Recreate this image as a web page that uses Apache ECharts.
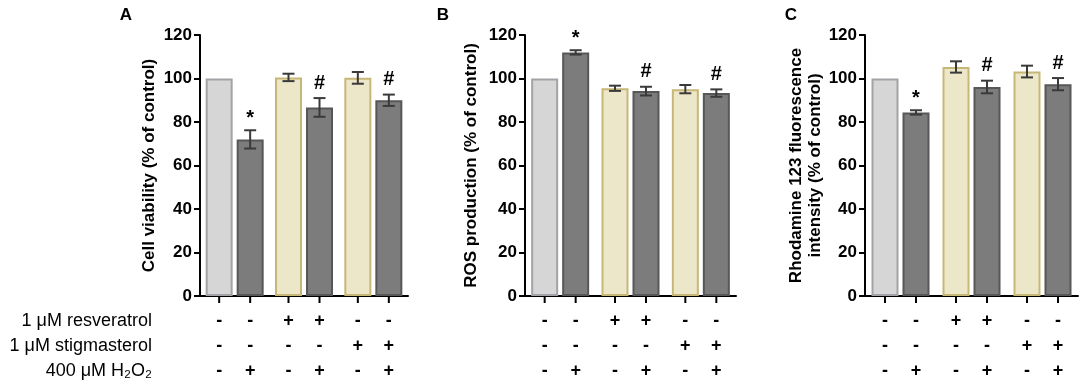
<!DOCTYPE html>
<html>
<head>
<meta charset="utf-8">
<script src="https://cdn.jsdelivr.net/npm/echarts@6/dist/echarts.min.js"></script>
<style>
html,body{margin:0;padding:0;background:#fff;}
#chart{width:1084px;height:390px;}
</style>
</head>
<body>
<div id="chart"></div>
<script>
// ---------------- data ----------------
const groups = ['Control', 'H2O2', 'Resveratrol', 'Resveratrol + H2O2', 'Stigmasterol', 'Stigmasterol + H2O2'];
const pairLabels = ['Control', 'Resveratrol', 'Stigmasterol'];

const viabilityMean = [100, 72, 100.5, 86.7, 100.3, 90];
const viabilityErr  = [0, 4.2, 1.7, 4.3, 2.7, 2.6];
const viabilityNote = ['', '*', '', '#', '', '#'];

const rosMean = [100, 112, 95.5, 94.2, 95.1, 93.3];
const rosErr  = [0, 1.0, 1.2, 2.0, 1.9, 1.7];
const rosNote = ['', '*', '', '#', '', '#'];

const rhoMean = [100, 84.4, 105.3, 96.1, 103.2, 97.4];
const rhoErr  = [0, 1.0, 2.6, 2.9, 2.7, 2.8];
const rhoNote = ['', '*', '', '#', '', '#'];

const rowLabels = ['1 \u03bcM resveratrol', '1 \u03bcM stigmasterol', '400 \u03bcM H\u2082O\u2082'];
const resveratrolRow  = ['-', '-', '+', '+', '-', '-'];
const stigmasterolRow = ['-', '-', '-', '-', '+', '+'];
const h2o2Row         = ['-', '+', '-', '+', '-', '+'];

const yTicks = [0, 20, 40, 60, 80, 100, 120];
const panelLetters = ['A', 'B', 'C'];
const yNames = ['Cell viability (% of control)', 'ROS production (% of control)', 'Rhodamine 123 fluorescence\nintensity (% of control)'];

// ---------------- style ----------------
const FONT = 'Liberation Sans, Arial, Helvetica, sans-serif';
const BAR_W = 27;
const BAR_GAP_PX = 4;
const HALF = (BAR_W + BAR_GAP_PX) / 2;
const fills = ['#d6d6d6', '#7c7c7c', '#ede7ca', '#7c7c7c', '#ede7ca', '#7c7c7c'];
const borders = ['#a3a3a7', '#575757', '#c7b777', '#575757', '#c7b777', '#575757'];
const rows = [resveratrolRow, stigmasterolRow, h2o2Row];

const grids = [
  {left: 200, top: 35, width: 208, height: 261},
  {left: 525, top: 35, width: 211, height: 261},
  {left: 865, top: 35, width: 213, height: 261}
];
const nameGaps = [41, 44, 40];
const panels = [
  {mean: viabilityMean, err: viabilityErr, note: viabilityNote},
  {mean: rosMean, err: rosErr, note: rosNote},
  {mean: rhoMean, err: rhoErr, note: rhoNote}
];

const xAxes = [], yAxes = [], series = [];
panels.forEach((p, g) => {
  xAxes.push({
    type: 'category', gridIndex: g, data: pairLabels,
    axisLine: {lineStyle: {color: '#000', width: 2}},
    axisTick: {show: false}, axisLabel: {show: false}
  });
  yAxes.push({
    type: 'value', gridIndex: g, min: yTicks[0], max: yTicks[yTicks.length - 1], interval: yTicks[1] - yTicks[0],
    name: yNames[g], nameLocation: 'middle', nameRotate: 90, nameGap: nameGaps[g],
    nameTextStyle: {fontFamily: FONT, fontWeight: 'bold', fontSize: 17, color: '#000', lineHeight: 19},
    axisLine: {show: true, lineStyle: {color: '#000', width: 2}},
    axisTick: {show: true, length: 6, lineStyle: {color: '#000', width: 2}},
    axisLabel: {fontFamily: FONT, fontWeight: 'bold', fontSize: 17, color: '#000', margin: 8},
    splitLine: {show: false}
  });
  [0, 1].forEach(side => {
    const data = [];
    for (let i = side; i < p.mean.length; i += 2) {
      data.push({value: p.mean[i], itemStyle: {color: fills[i], borderColor: borders[i], borderWidth: 2}});
    }
    series.push({
      type: 'bar', xAxisIndex: g, yAxisIndex: g, data: data,
      barWidth: BAR_W, barGap: (BAR_GAP_PX / BAR_W * 100) + '%',
      silent: true, z: 2
    });
  });
  series.push({
    type: 'custom', xAxisIndex: g, yAxisIndex: g, clip: false, z: 5, silent: true,
    data: p.mean.map((m, i) => [Math.floor(i / 2), m, p.err[i], i]),
    encode: {x: 0, y: 1},
    renderItem: function (params, api) {
      const cat = api.value(0), m = api.value(1), e = api.value(2), i = api.value(3);
      const base = api.coord([cat, 0]);
      const x = base[0] + (i % 2 ? HALF : -HALF);
      const y0 = base[1];
      const ch = [];
      let topY = api.coord([cat, m])[1];
      if (e > 0) {
        const yt = api.coord([cat, m + e])[1];
        const yb = api.coord([cat, m - e])[1];
        const st = {stroke: '#3a3a3a', lineWidth: 2};
        ch.push({type: 'line', shape: {x1: x, y1: yt, x2: x, y2: yb}, style: st});
        ch.push({type: 'line', shape: {x1: x - 6, y1: yt, x2: x + 6, y2: yt}, style: st});
        ch.push({type: 'line', shape: {x1: x - 6, y1: yb, x2: x + 6, y2: yb}, style: st});
        topY = yt;
      }
      ch.push({type: 'line', shape: {x1: x, y1: y0 + 1, x2: x, y2: y0 + 7}, style: {stroke: '#000', lineWidth: 2}});
      const note = p.note[i];
      if (note) {
        ch.push({type: 'text', x: x, y: topY - (note === '*' ? 2 : 5),
          style: {text: note, align: 'center', verticalAlign: 'bottom', fontFamily: FONT, fontWeight: 'bold', fontSize: 20, fill: '#000'}});
      }
      rows.forEach((row, r) => {
        ch.push({type: 'text', x: x, y: y0 + 25 + r * 25,
          style: {text: row[i], align: 'center', verticalAlign: 'middle', fontFamily: FONT, fontWeight: 'bold', fontSize: 18, fill: '#000'}});
      });
      return {type: 'group', children: ch};
    }
  });
});

const graphic = [];
const letterX = [126, 443, 791];
panelLetters.forEach((L, k) => {
  graphic.push({type: 'text', x: letterX[k], y: 15,
    style: {text: L, align: 'center', verticalAlign: 'middle', fontFamily: FONT, fontWeight: 'bold', fontSize: 17, fill: '#000'}});
});
rowLabels.forEach((t, r) => {
  graphic.push({type: 'text', x: 152, y: 321 + r * 25,
    style: {text: t, align: 'right', verticalAlign: 'middle', fontFamily: FONT, fontSize: 18, fill: '#000'}});
});

const chart = echarts.init(document.getElementById('chart'), null, {renderer: 'canvas'});
chart.setOption({
  animation: false,
  backgroundColor: '#fff',
  grid: grids,
  xAxis: xAxes,
  yAxis: yAxes,
  series: series,
  graphic: graphic
});
</script>
</body>
</html>
